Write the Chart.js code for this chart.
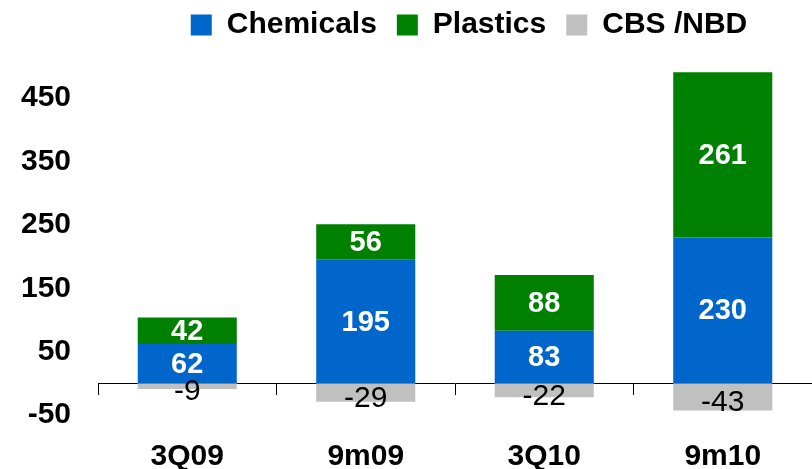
<!DOCTYPE html>
<html>
<head>
<meta charset="utf-8">
<script src="https://cdn.jsdelivr.net/npm/chart.js@4"></script>
<style>
  html, body { margin: 0; padding: 0; background: #fff; }
</style>
</head>
<body>
<canvas id="chart" width="812" height="469"></canvas>
<script>
const categories = ['3Q09', '9m09', '3Q10', '9m10'];
const chemicals = [62, 195, 83, 230];
const plastics = [42, 56, 88, 261];
const cbsNbd = [-9, -29, -22, -43];
const yTicks = [-50, 50, 150, 250, 350, 450];

const FONT = '"Liberation Sans", Arial, sans-serif';
Chart.defaults.font.family = FONT;
Chart.defaults.color = '#000';

// value labels inside the bar segments
const barLabels = {
    id: 'barLabels',
    afterDatasetsDraw(chart) {
        const ctx = chart.ctx;
        ctx.save();
        ctx.textAlign = 'center';
        ctx.textBaseline = 'middle';
        chart.data.datasets.forEach((ds, i) => {
            const meta = chart.getDatasetMeta(i);
            const neg = i === 2;
            ctx.font = (neg ? '30px ' : 'bold 29px ') + FONT;
            ctx.fillStyle = neg ? '#000' : '#fff';
            meta.data.forEach((bar, j) => {
                const p = bar.getProps(['x', 'y', 'base'], true);
                ctx.fillText(ds.data[j], p.x, (p.y + p.base) / 2 + (neg ? 6 : 1));
            });
        });
        ctx.restore();
    }
};

// the legend sits a bit right of centre in the original
const legendShift = {
    id: 'legendShift',
    beforeDraw(chart) {
        chart.legend.left = 126;
    }
};

new Chart(document.getElementById('chart'), {
    type: 'bar',
    data: {
        labels: categories,
        datasets: [
            { label: 'Chemicals', data: chemicals, backgroundColor: '#0066CC', borderWidth: 0 },
            { label: 'Plastics', data: plastics, backgroundColor: '#008000', borderWidth: 0 },
            { label: 'CBS /NBD', data: cbsNbd, backgroundColor: '#C0C0C0', borderWidth: 0 }
        ]
    },
    options: {
        responsive: false,
        animation: false,
        categoryPercentage: 1,
        barPercentage: 0.555,
        layout: { padding: { top: -10, right: 0, bottom: 54, left: 0 } },
        plugins: {
            tooltip: { enabled: false },
            legend: {
                position: 'top',
                labels: {
                    boxWidth: 21,
                    boxHeight: 21,
                    padding: 20,
                    font: { size: 30, weight: 'bold' },
                    color: '#000'
                }
            }
        },
        scales: {
            x: {
                stacked: true,
                position: { y: 0 },
                grid: { display: true, drawOnChartArea: false, drawTicks: true, tickLength: 11, color: '#000', offset: true },
                border: { display: true, color: '#000', width: 1 },
                ticks: { padding: 44, font: { size: 30, weight: 'bold' }, color: '#000' }
            },
            y: {
                stacked: true,
                min: -50,
                max: 526,
                afterBuildTicks: s => { s.ticks = yTicks.map(v => ({ value: v })); },
                afterFit: s => { s.width = 98; },
                grid: { display: false, drawTicks: false },
                border: { display: false },
                ticks: { padding: 27, font: { size: 30, weight: 'bold' }, color: '#000' }
            }
        }
    },
    plugins: [barLabels, legendShift]
});
</script>
</body>
</html>
